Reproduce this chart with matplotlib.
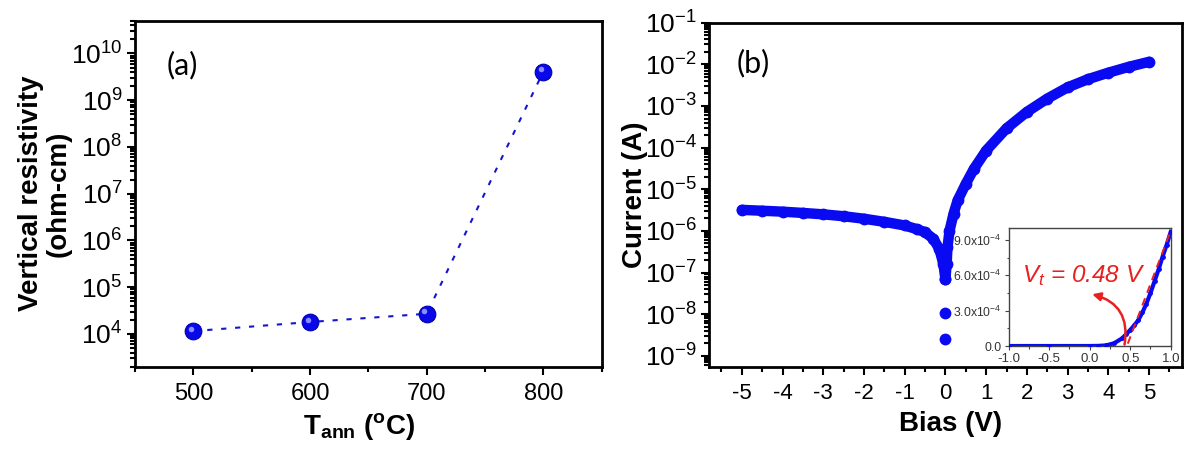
import numpy as np
import matplotlib
matplotlib.use('Agg')
import matplotlib.pyplot as plt
from matplotlib.ticker import LogLocator, MultipleLocator, FixedLocator, FuncFormatter, NullFormatter, LogFormatterMathtext
from matplotlib.transforms import offset_copy

plt.rcParams['font.family'] = ['Liberation Sans', 'DejaVu Sans']
plt.rcParams['mathtext.fontset'] = 'custom'
plt.rcParams['mathtext.rm'] = 'Liberation Sans'
plt.rcParams['mathtext.it'] = 'Liberation Sans:italic'
plt.rcParams['mathtext.bf'] = 'Liberation Sans:bold'
plt.rcParams['axes.unicode_minus'] = False

# ---------------- data: panel (a) ----------------
t_ann = [500, 600, 700, 800]
resistivity = [1.15e4, 1.8e4, 2.7e4, 4.1e9]

# ---------------- data: panel (b) ----------------
bias_rev = [-5.0, -4.5, -4.0, -3.5, -3.0, -2.5, -2.0, -1.5, -1.0, -0.7, -0.5, -0.3, -0.15, -0.05, 0.0]
current_rev = [3.2e-6, 3.05e-6, 2.9e-6, 2.7e-6, 2.5e-6, 2.25e-6, 1.96e-6, 1.65e-6,
               1.35e-6, 1.1e-6, 9.3e-7, 6.5e-7, 3.7e-7, 1.6e-7, 6.9e-8]
bias_fwd = [0.0, 0.03, 0.05, 0.1, 0.2, 0.3, 0.5, 0.7, 1.0, 1.5, 2.0, 2.5, 3.0, 3.5, 4.0, 4.5, 5.0]
current_fwd = [6.9e-8, 1.6e-7, 4e-7, 1e-6, 2.6e-6, 5.4e-6, 1.35e-5, 3.1e-5, 8.5e-5, 2.9e-4,
               7.2e-4, 1.5e-3, 2.8e-3, 4.4e-3, 6.3e-3, 8.7e-3, 1.15e-2]
bias_zero = [0.0, 0.0]
current_zero = [1.07e-8, 2.6e-9]

# ---------------- data: inset ----------------
inset_v = [-1.0, -0.5, 0.0, 0.1, 0.2, 0.3, 0.4, 0.45, 0.5, 0.55, 0.6, 0.65, 0.7, 0.75,
           0.8, 0.85, 0.9, 0.95, 1.0]
inset_i = [0.0, 0.0, 0.0, 1e-6, 5e-6, 2.3e-5, 6.5e-5, 1.0e-4, 1.36e-4, 1.75e-4, 2.2e-4,
           2.85e-4, 3.6e-4, 4.5e-4, 5.5e-4, 6.5e-4, 7.6e-4, 8.6e-4, 9.7e-4]
fit_v = [0.47, 1.0]
fit_i = [2.0e-5, 9.8e-4]
inset_yticks = [0.0, 3.0e-4, 6.0e-4, 9.0e-4]
inset_yticklabels = ['0.0', '3.0x10$^{-4}$', '6.0x10$^{-4}$', '9.0x10$^{-4}$']

BLUE = '#0a0af2'

fig = plt.figure(figsize=(12, 4.51), dpi=100)
ax1 = fig.add_axes([0.1125, 0.187, 0.3889, 0.767])
ax2 = fig.add_axes([0.591, 0.187, 0.3937, 0.7627])
axin = fig.add_axes([0.8406, 0.2328, 0.135, 0.261])


def style_main(ax, xsize):
    for s in ax.spines.values():
        s.set_linewidth(2.0)
    ax.tick_params(which='both', direction='out', top=False, right=False, width=1.5)
    ax.tick_params(which='major', length=6)
    ax.tick_params(which='minor', length=3.5)
    ax.tick_params(axis='x', labelsize=xsize, pad=6)
    ax.tick_params(axis='y', labelsize=19, pad=3)


# ---------------- panel (a) ----------------
ax1.plot(t_ann, resistivity, ls=(0, (2.5, 4.2)), lw=1.5, color='#1515d0', zorder=2)
ax1.plot(t_ann, resistivity, 'o', ms=12, mfc='#0808e8', mec='#0000b0', mew=0.8, zorder=3)
tr = offset_copy(ax1.transData, fig=fig, x=-2.5, y=2.5, units='dots')
ax1.plot(t_ann, resistivity, 'o', ms=4, mfc='#8c8cff', mec='none', transform=tr, zorder=4)
ax1.set_yscale('log')
ax1.set_xlim(450, 850)
ax1.set_ylim(10 ** 3.3, 10 ** 10.7)
ax1.xaxis.set_major_locator(FixedLocator([500, 600, 700, 800]))
ax1.xaxis.set_minor_locator(MultipleLocator(50))
ax1.yaxis.set_major_locator(LogLocator(base=10, numticks=100))
ax1.yaxis.set_minor_locator(LogLocator(base=10, subs=np.arange(2, 10), numticks=100))
ax1.yaxis.set_major_formatter(LogFormatterMathtext())
ax1.yaxis.set_minor_formatter(NullFormatter())
style_main(ax1, 17)
ax1.set_ylabel('Vertical resistivity\n(ohm-cm)', fontsize=20, fontweight='bold', linespacing=1.1)
ax1.yaxis.set_label_coords(-0.135, 0.5)
ax1.set_xlabel(r'T$_{\mathbf{ann}}$ ($^{\mathbf{o}}$C)', fontsize=20, fontweight='bold')
ax1.xaxis.set_label_coords(0.48, -0.128)
ax1.text(0.068, 0.872, '(a)', transform=ax1.transAxes, fontsize=22, family='Lato',
         ha='left', va='center')

# ---------------- panel (b) ----------------
for xs, ys in ((bias_rev, current_rev), (bias_fwd, current_fwd)):
    ax2.plot(xs, ys, '-', lw=7.5, color=BLUE, solid_capstyle='round', solid_joinstyle='round', zorder=2)
    ax2.plot(xs, ys, 'o', ms=8.5, color=BLUE, mec='none', zorder=3)
ax2.plot(bias_zero, current_zero, 'o', ms=8.5, color=BLUE, mec='none', zorder=3)
ax2.set_yscale('log')
ax2.set_xlim(-5.8, 5.8)
ax2.set_ylim(10 ** -9.26, 1e-1)
ax2.xaxis.set_major_locator(FixedLocator(list(range(-5, 6))))
ax2.xaxis.set_minor_locator(FixedLocator([-5.5, -4.5, -3.5, -2.5, -1.5, -0.5, 0.5, 1.5, 2.5, 3.5, 4.5, 5.5]))
ax2.yaxis.set_major_locator(LogLocator(base=10, numticks=100))
ax2.yaxis.set_minor_locator(LogLocator(base=10, subs=np.arange(2, 10), numticks=100))
ax2.yaxis.set_major_formatter(LogFormatterMathtext())
ax2.yaxis.set_minor_formatter(NullFormatter())
style_main(ax2, 16)
ax2.set_ylabel('Current (A)', fontsize=20, fontweight='bold')
ax2.yaxis.set_label_coords(-0.13, 0.5)
ax2.set_xlabel('Bias (V)', fontsize=20, fontweight='bold')
ax2.xaxis.set_label_coords(0.51, -0.128)
ax2.text(0.0586, 0.883, '(b)', transform=ax2.transAxes, fontsize=22, family='Lato',
         ha='left', va='center')

# ---------------- inset ----------------
axin.plot(inset_v, inset_i, '-', lw=3, color=BLUE, zorder=2)
axin.plot(inset_v, inset_i, 'o', ms=3.5, color=BLUE, mec='none', zorder=3)
axin.plot(fit_v, fit_i, ls=(0, (4, 3)), lw=1.4, color='#e82020', zorder=4)
axin.set_xlim(-1.0, 1.0)
axin.set_ylim(0, 1.0e-3)
axin.xaxis.set_major_locator(MultipleLocator(0.5))
axin.xaxis.set_minor_locator(MultipleLocator(0.25))
axin.yaxis.set_major_locator(FixedLocator(inset_yticks))
axin.yaxis.set_minor_locator(MultipleLocator(1.5e-4))
axin.set_yticklabels(inset_yticklabels)
axin.xaxis.set_major_formatter(FuncFormatter(lambda v, p: f'{v:.1f}'))
for s in axin.spines.values():
    s.set_linewidth(1.0)
    s.set_color('#444444')
axin.tick_params(which='both', direction='out', top=False, right=False, width=0.8,
                 colors='#444444', labelcolor='#333333')
axin.tick_params(axis='y', labelsize=8.8)
axin.tick_params(axis='x', labelsize=9.5)
axin.tick_params(which='major', length=3, pad=2)
axin.tick_params(which='minor', length=1.8)
axin.text(-0.83, 5.4e-4, r'$V_t$ = 0.48 V', color='#e82020', fontsize=17.5,
          style='italic', ha='left', va='baseline', zorder=5)
axin.annotate('', xy=(0.03, 4.4e-4), xytext=(0.43, 1.2e-5),
              arrowprops=dict(arrowstyle='-|>', color='#e82020', lw=1.8, mutation_scale=12,
                              connectionstyle='arc3,rad=0.45', shrinkA=0, shrinkB=0),
              zorder=5)

fig.savefig('out.png', dpi=100)
